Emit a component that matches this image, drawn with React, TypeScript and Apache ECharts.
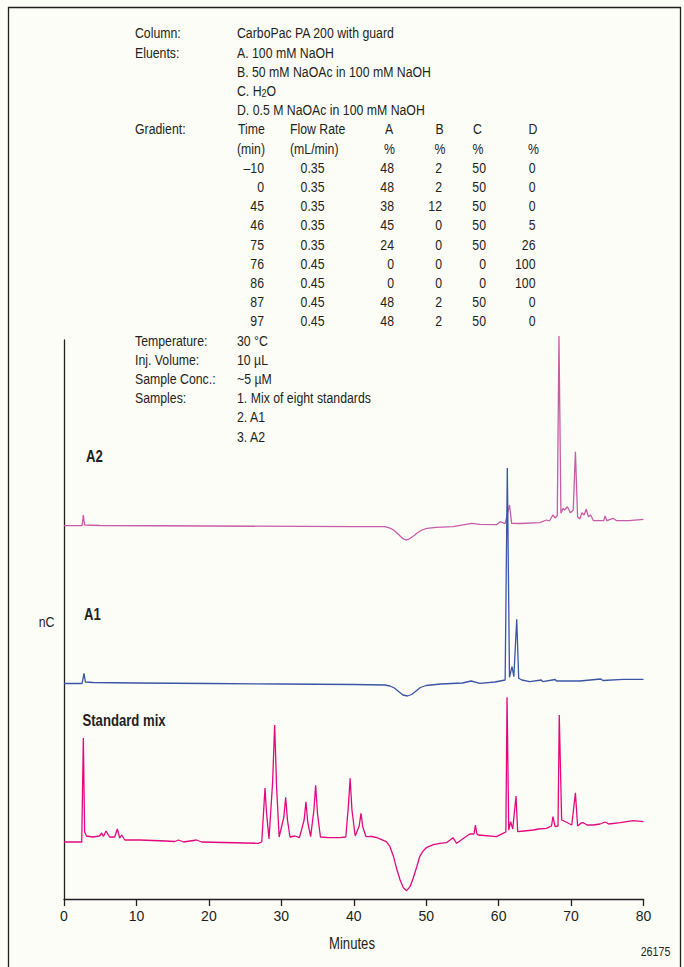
import React, { useEffect, useRef } from "react";
import * as echarts from "echarts";

// ---------- data ----------
const X_TICKS_MIN = 0;
const X_TICKS_MAX = 80;
const X_TICK_STEP = 10;

// signal relative to each trace's own baseline (arbitrary nC units)
const STD_OFFSET = 57;
const A1_OFFSET = 215.5;
const A2_OFFSET = 373.3;

const STANDARD_MIX: [number, number][] = [
  [0, 0], [2.45, 0], [2.67, 104], [2.85, 10], [3.1, 6], [4.0, 5], [4.9, 6], [5.2, 9], [5.45, 5.5],
  [5.8, 11], [6.3, 5], [7.0, 5], [7.36, 13], [7.7, 4], [7.96, 7], [8.4, 2], [10.5, 2], [14.0, 1],
  [15.3, 0.5], [15.8, 2], [16.5, 0], [18.3, 2], [19.0, 0], [22, -0.5], [26.8, -1.3], [27.3, 0],
  [27.55, 30], [27.75, 54], [27.95, 30], [28.3, 3], [28.8, 60], [29.08, 117], [29.35, 55], [29.7, 5],
  [30.35, 25], [30.6, 44.7], [30.85, 22], [31.2, 5], [31.9, 6], [32.5, 4.3], [33.15, 22], [33.4, 40.3],
  [33.65, 20], [34.05, 5.3], [34.5, 32], [34.74, 56.7], [35.0, 28], [35.4, 5], [36.5, 4.3], [38.1, 4.3],
  [38.9, 5], [39.25, 35], [39.5, 63.7], [39.75, 32], [40.2, 6], [40.75, 16], [41.0, 28.7], [41.25, 15],
  [41.7, 5.3], [42.5, 5.5], [43.2, 4.3], [44.5, 0.3], [45.0, -4.7], [45.5, -14.7], [45.9, -26.3],
  [46.4, -38], [46.85, -45.7], [47.3, -48.7], [47.77, -44.7], [48.2, -36.3], [48.7, -24.7],
  [49.1, -14.7], [49.6, -8.7], [50.1, -5.3], [51.0, -2.7], [51.9, -1.3], [52.8, -0.7], [53.7, 4.3],
  [54.2, -1.3], [56.0, 8], [56.6, 8], [56.8, 17], [57.0, 8], [57.2, 7], [59.7, 5.3], [60.6, 8.7],
  [61.0, 10], [61.16, 144.7], [61.4, 12], [61.66, 20.3], [61.95, 13], [62.4, 46], [62.63, 10.3],
  [63.5, 11], [64.8, 12], [65.5, 13], [66.6, 13.7], [67.3, 16], [67.5, 25.3], [67.8, 15.3],
  [68.2, 16], [68.37, 127], [68.7, 22], [69.3, 20], [70.1, 17], [70.6, 49.3], [70.9, 16],
  [71.4, 19], [71.7, 19.3], [72.2, 17], [73.1, 17], [74.0, 18], [74.7, 20], [75.2, 18],
  [76.8, 19.3], [78.6, 21.3], [80, 20.3],
];

const A1: [number, number][] = [
  [0, 0], [2.5, 0], [2.76, 10.2], [2.95, 1.5], [4, 1], [10, 0.5], [20, 0], [30, -0.5], [40, -1],
  [44.3, -1.5], [45.0, -2.5], [45.6, -4.5], [46.2, -8], [46.8, -11.5], [47.4, -12.5], [48.0, -11],
  [48.6, -7.5], [49.2, -4], [50, -2], [52, -0.5], [55, 0.5], [56.2, 2.5], [57.4, 0.2], [59.5, 1.5],
  [60.9, 3.5], [61.2, 215.5], [61.5, 6.2], [61.85, 16.8], [62.1, 6.8], [62.5, 64.2], [62.77, 5.2],
  [63.2, 3.5], [64.3, 1.8], [65.9, 3.5], [66.1, 1.8], [67.8, 4], [68.0, 2.5], [71.2, 2.5],
  [74.1, 4.5], [74.4, 3], [77.2, 4.2], [80, 4.2],
];

const A2: [number, number][] = [
  [0, 0], [2.5, 0], [2.67, 10.7], [2.85, 0.7], [5, 0.2], [20, -0.3], [40, -1], [44.3, -1],
  [45.0, -2.4], [45.5, -4.3], [46.0, -7.5], [46.4, -10.3], [46.8, -13], [47.2, -14.3], [47.6, -13.5],
  [48.0, -11.6], [48.4, -9.5], [48.7, -7.6], [49.4, -4.3], [50.1, -2.6], [51.4, -1.6], [53.7, -1],
  [56.3, 2.4], [57.4, 1.4], [59.7, 1], [60.2, 4], [60.9, 2], [61.5, 20.7], [61.8, 2.4], [63, 2.2],
  [65.7, 3], [66.6, 5.7], [67.0, 4.7], [67.5, 10.7], [67.8, 7.7], [68.1, 10.2], [68.33, 189.7],
  [68.6, 12.4], [68.9, 17.4], [69.1, 15.7], [69.5, 19], [69.9, 13], [70.3, 15.7], [70.6, 74],
  [70.9, 9], [71.2, 6.7], [71.5, 13], [71.8, 10.7], [72.1, 16.4], [72.4, 9], [72.7, 10.7],
  [73.1, 5], [74.5, 5], [74.7, 9.7], [74.95, 5], [75.8, 7.4], [76.3, 5], [78.0, 5], [80, 6.4],
];

const TRACE_NAMES = ["A2", "A1", "Standard mix"];

const INFO_LABELS = ["Column:", "Eluents:"];
const COLUMN_TEXT = "CarboPac PA 200 with guard";
const ELUENTS = ["A. 100 mM NaOH", "B. 50 mM NaOAc in 100 mM NaOH", "C. H{s|2}O", "D. 0.5 M NaOAc in 100 mM NaOH"];

const GRADIENT_HEAD_1 = ["Time", "Flow Rate", "A", "B", "C", "D"];
const GRADIENT_HEAD_2 = ["(min)", "(mL/min)", "%", "%", "%", "%"];
const GRAD_TIME = [-10, 0, 45, 46, 75, 76, 86, 87, 97];
const GRAD_FLOW = ["0.35", "0.35", "0.35", "0.35", "0.35", "0.45", "0.45", "0.45", "0.45"];
const GRAD_A = [48, 48, 38, 45, 24, 0, 0, 48, 48];
const GRAD_B = [2, 2, 12, 0, 0, 0, 0, 2, 2];
const GRAD_C = [50, 50, 50, 50, 50, 0, 0, 50, 50];
const GRAD_D = [0, 0, 0, 5, 26, 100, 100, 0, 0];

const COND_LABELS = ["Temperature:", "Inj. Volume:", "Sample Conc.:", "Samples:"];
const COND_VALUES = ["30 °C", "10 µL", "~5 µM", "1. Mix of eight standards"];
const SAMPLE_EXTRA = ["2. A1", "3. A2"];

// ---------- styles ----------
const FONT = '"Liberation Sans", Arial, sans-serif';
const NARROW = 0.82;
const INK = "#231f20";
const C_STD = "#e4087f";
const C_A1 = "#3b55a6";
const C_A2 = "#c85ca9";

export default function App() {
  const ref = useRef<HTMLDivElement>(null);

  useEffect(() => {
    if (!ref.current) return;
    const chart = echarts.init(ref.current, undefined, { renderer: "svg" });

    const lineY = (k: number) => 33.5 + 19.2 * k;
    const txt = (text: string, x: number, y: number, opts: any = {}) => ({
      type: "text",
      x,
      y,
      scaleX: NARROW,
      silent: true,
      style: {
        text,
        fill: INK,
        fontFamily: FONT,
        fontSize: 15,
        align: "left",
        verticalAlign: "middle",
        ...opts,
      },
    });

    const g: any[] = [];
    g.push({
      type: "rect",
      shape: { x: 8.5, y: 7.5, width: 672, height: 975 },
      style: { fill: "none", stroke: INK, lineWidth: 1.3 },
      silent: true,
    });

    // column / eluents
    g.push(txt(INFO_LABELS[0], 135, lineY(0)));
    g.push(txt(COLUMN_TEXT, 237, lineY(0)));
    g.push(txt(INFO_LABELS[1], 135, lineY(1)));
    ELUENTS.forEach((e, i) => {
      g.push(
        txt(e, 237, lineY(1 + i), {
          rich: {
            s: { fontSize: 11, fontFamily: FONT, fill: INK, lineHeight: 4, verticalAlign: "bottom" },
          },
        })
      );
    });

    // gradient table
    g.push(txt("Gradient:", 135, lineY(5)));
    const headX = [
      { x: 238, align: "left" },
      { x: 290, align: "left" },
      { x: 389, align: "center" },
      { x: 439.5, align: "center" },
      { x: 477.5, align: "center" },
      { x: 533, align: "center" },
    ];
    GRADIENT_HEAD_1.forEach((h, i) => g.push(txt(h, headX[i].x, lineY(5), { align: headX[i].align })));
    GRADIENT_HEAD_2.forEach((h, i) =>
      g.push(txt(h, headX[i].x + (i === 0 ? -1 : 0) + (i >= 2 ? 0.5 : 0), lineY(6), { align: headX[i].align }))
    );
    GRAD_TIME.forEach((t, r) => {
      const y = lineY(7 + r);
      g.push(txt(t < 0 ? "–" + Math.abs(t) : String(t), 264, y, { align: "right" }));
      g.push(txt(GRAD_FLOW[r], 312.5, y, { align: "center" }));
      g.push(txt(String(GRAD_A[r]), 394, y, { align: "right" }));
      g.push(txt(String(GRAD_B[r]), 442, y, { align: "right" }));
      g.push(txt(String(GRAD_C[r]), 486, y, { align: "right" }));
      g.push(txt(String(GRAD_D[r]), 535.5, y, { align: "right" }));
    });

    // conditions
    COND_LABELS.forEach((l, i) => {
      g.push(txt(l, 135, lineY(16 + i)));
      g.push(txt(COND_VALUES[i], 237, lineY(16 + i)));
    });
    SAMPLE_EXTRA.forEach((s, i) => g.push(txt(s, 237, lineY(20 + i))));

    // trace labels
    const boldLabel = { fontWeight: "bold", fontSize: 16 };
    g.push(txt(TRACE_NAMES[0], 86, 457, boldLabel));
    g.push(txt(TRACE_NAMES[1], 84, 615, boldLabel));
    g.push(txt(TRACE_NAMES[2], 82.5, 720.5, boldLabel));

    // axis captions
    g.push(txt("nC", 46.5, 622, { align: "center", fontSize: 15 }));
    g.push(txt("Minutes", 352, 944, { align: "center", fontSize: 16 }));
    g.push(txt("26175", 655.5, 952, { align: "center", fontSize: 13 }));

    const mk = (d: [number, number][], off: number) => d.map(([t, s]) => [t, s + off]);
    const lineSeries = (name: string, data: any[], color: string, z: number) => ({
      type: "line",
      name,
      data,
      showSymbol: false,
      symbol: "none",
      clip: false,
      z,
      lineStyle: { color, width: 1.3 },
      emphasis: { disabled: true },
    });

    chart.setOption({
      animation: false,
      backgroundColor: "#fdfdf7",
      grid: { left: 64, right: 40.5, top: 340, bottom: 68, containLabel: false },
      xAxis: {
        type: "value",
        min: X_TICKS_MIN,
        max: X_TICKS_MAX,
        interval: X_TICK_STEP,
        axisLine: { show: true, lineStyle: { color: INK, width: 1.3 } },
        axisTick: { show: true, length: 7, lineStyle: { color: INK, width: 1.3 } },
        axisLabel: { color: INK, fontFamily: FONT, fontSize: 14, margin: 10 },
        splitLine: { show: false },
      },
      yAxis: {
        type: "value",
        min: 0,
        max: 559,
        axisLine: { show: true, lineStyle: { color: INK, width: 1.3 } },
        axisTick: { show: false },
        axisLabel: { show: false },
        splitLine: { show: false },
      },
      series: [
        lineSeries(TRACE_NAMES[0], mk(A2, A2_OFFSET), C_A2, 2),
        lineSeries(TRACE_NAMES[1], mk(A1, A1_OFFSET), C_A1, 3),
        lineSeries(TRACE_NAMES[2], mk(STANDARD_MIX, STD_OFFSET), C_STD, 4),
      ],
      graphic: g,
    });

    return () => chart.dispose();
  }, []);

  return (
    <div
      ref={ref}
      style={{ position: "fixed", left: 0, top: 0, width: 684, height: 967 }}
    />
  );
}
